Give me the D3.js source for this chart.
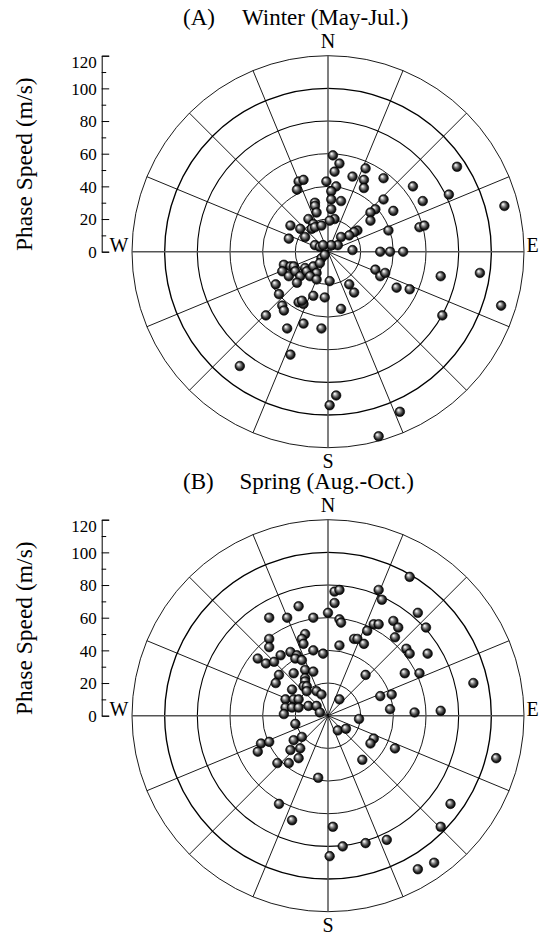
<!DOCTYPE html>
<html>
<head>
<meta charset="utf-8">
<script src="https://cdn.jsdelivr.net/npm/d3@7"></script>
<style>
body { margin: 0; background: #fff; }
svg text { font-family: "Liberation Serif", "Times New Roman", serif; fill: #000; }
</style>
</head>
<body>
<script>
//Phase velocity of each event as [eastward, northward] component, m/s
var winterPhase = [
    [3,59],[7,54],[4,49],[23,51],[15,46],[22,44],[22,39],[34,45],[-1,43],[5,40],
    [2,37],[2,32],[8,31],[2,26],[4,20],[1,19],[34,32],[29,26],[26,24],[26,19],
    [40,25],[52,40],[58,31],[74,35],[79,52],[108,28],[56,15],[59,16],[37,13],[18,13],
    [16,12],[13,10],[8,9],[6,4],[2,4],[15,1],[32,0],[38,0],[46,0],
    [-18,43],[-15,44],[-19,38],[-8,30],[-8,28],[-7,24],[-12,20],[-9,17],[-23,16],[-17,14],
    [-10,14],[-8,15],[-4,16],[-14,9],[-24,8],[-8,4],[-5,3],[-3,4],
    [-27,-8],[-23,-9],[-21,-9],[-28,-12],[-24,-15],[-20,-12],[-17,-15],[-19,-19],[-14,-10],[-13,-12],
    [-9,-9],[-7,-13],[-11,-15],[-7,-17],[-4,-4],[-2,-2],[-5,-7],[1,-18],[-32,-20],[-30,-26],
    [-28,-33],[-27,-36],[-18,-31],[-15,-32],[-16,-30],[-9,-27],[-2,-28],[-38,-39],[-25,-47],[-15,-44],
    [-4,-47],[-23,-63],[-54,-70],
    [8,-35],[13,-20],[16,-25],[1,-94],[5,-88],[31,-113],[44,-98],[29,-11],[32,-15],[35,-13],
    [42,-22],[50,-23],[69,-15],[93,-13],[106,-33],[70,-39]
];
var springPhase = [
    [50,85],[31,77],[33,71],[4,76],[7,77],[4,69],[0,63],[7,59],[8,57],[55,63],
    [60,54],[40,58],[43,54],[41,48],[28,56],[31,56],[24,52],[16,47],[18,47],[22,44],
    [7,43],[48,41],[50,38],[61,38],[47,26],[56,26],[89,20],[23,25],[32,12],[39,13],
    [38,4],[53,2],[69,3],[7,10],
    [19,-2],[6,-9],[11,-8],[28,-14],[26,-17],[41,-20],[21,-27],[103,-26],[75,-54],[69,-68],
    [36,-76],[23,-78],[9,-80],[3,-68],[1,-86],[55,-94],[65,-90],
    [-6,-38],[-30,-54],[-22,-64],[-20,-5],[-41,-17],[-36,-16],[-43,-22],[-21,-15],[-16,-13],[-23,-21],
    [-17,-20],[-18,-26],[-31,-29],[-24,-29],
    [-36,60],[-25,60],[-18,67],[-9,60],[-36,47],[-36,42],[-14,50],[-16,47],[-15,44],[-9,40],
    [-3,38],[-43,35],[-38,32],[-33,33],[-29,37],[-23,39],[-19,37],[-20,35],[-16,34],[-30,25],
    [-32,20],[-21,26],[-14,28],[-9,27],[-14,23],[-14,21],[-15,18],[-13,18],[-13,15],[-22,16],
    [-26,10],[-21,10],[-18,10],[-26,5],[-22,5],[-18,5],[-12,6],[-7,15],[-4,13],[-27,1],
    [-7,6],[-5,2]
];
var ringSpeeds = [20, 40, 60, 80, 100, 120];
var spokeAngles = [0, 22.5, 45, 67.5, 90, 112.5, 135, 157.5];
var majorTicks = [0, 20, 40, 60, 80, 100, 120];
var minorTicks = [10, 30, 50, 70, 90, 110];
var panelTags = ["(A)", "(B)"];
var panelTitles = ["Winter (May-Jul.)", "Spring (Aug.-Oct.)"];

//Chart parameters
var svgWidth = 544;
var svgHeight = 934;
var panelHeight = 464;
var maxSpeed = 120;
var plotRadius = 196;
var center = {x: 328, y: 251.7};
var axisX = 101.7;
var titleX = [242, 239.5];
var serif = "'Liberation Serif', 'Times New Roman', serif";

var svg = d3.select("body")
    .append("svg")
    .attr("width", svgWidth)
    .attr("height", svgHeight);

//Shaded ball marker
var grad = svg.append("defs")
    .append("radialGradient")
    .attr("id", "ball")
    .attr("cx", "50%").attr("cy", "50%").attr("r", "50%")
    .attr("fx", "33%").attr("fy", "30%");
[[0, "#ffffff"], [0.16, "#dedede"], [0.42, "#858585"], [0.75, "#262626"], [1, "#000000"]]
    .forEach(function(s) {
        grad.append("stop").attr("offset", s[0]).attr("stop-color", s[1]);
    });

function drawPanel(index, data) {
    var g = svg.append("g")
        .attr("transform", `translate(0, ${index * panelHeight})`);

    //Scales
    var xScale = d3.scaleLinear()
        .domain([-maxSpeed, maxSpeed])
        .range([center.x - plotRadius, center.x + plotRadius]);
    var yScale = d3.scaleLinear()
        .domain([-maxSpeed, maxSpeed])
        .range([center.y + plotRadius, center.y - plotRadius]);
    var rScale = d3.scaleLinear()
        .domain([0, maxSpeed])
        .range([0, plotRadius]);

    //Rings
    g.selectAll(".ring")
        .data(ringSpeeds)
        .enter()
        .append("circle")
        .attr("class", "ring")
        .attr("cx", xScale(0))
        .attr("cy", yScale(0))
        .attr("r", d => rScale(d))
        .attr("fill", "none")
        .attr("stroke", "#000")
        .attr("stroke-width", d => d == 100 ? 1.35 : (d == 80 ? 1.1 : 0.9));

    //Spokes every 22.5 degrees
    var rad = Math.PI / 180;
    g.selectAll(".spoke")
        .data(spokeAngles)
        .enter()
        .append("line")
        .attr("class", "spoke")
        .attr("x1", d => xScale(maxSpeed * Math.sin(d * rad)))
        .attr("y1", d => yScale(maxSpeed * Math.cos(d * rad)))
        .attr("x2", d => xScale(-maxSpeed * Math.sin(d * rad)))
        .attr("y2", d => yScale(-maxSpeed * Math.cos(d * rad)))
        .attr("stroke", d => d % 90 == 0 ? "#555" : "#000")
        .attr("stroke-width", d => d % 90 == 0 ? 1.5 : 0.9);

    //Speed axis on the left
    var axisScale = d3.scaleLinear()
        .domain([0, maxSpeed])
        .range([yScale(0), yScale(maxSpeed)]);
    var majorAxis = g.append("g")
        .attr("transform", `translate(${axisX}, 0)`)
        .call(d3.axisLeft(axisScale).tickValues(majorTicks).tickSize(-7.5).tickPadding(5));
    majorAxis.select(".domain").attr("stroke", "#000");
    majorAxis.selectAll("text")
        .style("font-family", serif)
        .style("font-size", "17px")
        .attr("dy", d => d == maxSpeed ? "0.7em" : "0.34em");
    g.append("g")
        .attr("transform", `translate(${axisX}, 0)`)
        .call(d3.axisLeft(axisScale).tickValues(minorTicks).tickSize(-4.5).tickFormat(""))
        .select(".domain").remove();

    //Points
    g.selectAll(".ball")
        .data(data)
        .enter()
        .append("circle")
        .attr("class", "ball")
        .attr("cx", d => xScale(d[0]))
        .attr("cy", d => yScale(d[1]))
        .attr("r", 4.8)
        .attr("fill", "url(#ball)")
        .attr("stroke", "#000")
        .attr("stroke-width", 0.6);

    //Compass letters
    g.append("text").attr("x", xScale(0)).attr("y", yScale(maxSpeed) - 7.5)
        .attr("text-anchor", "middle").style("font-size", "20px").text("N");
    g.append("text").attr("x", xScale(0)).attr("y", yScale(-maxSpeed) + 20)
        .attr("text-anchor", "middle").style("font-size", "20px").text("S");
    g.append("text").attr("x", xScale(-maxSpeed) - 3.5).attr("y", yScale(0))
        .attr("text-anchor", "end").style("font-size", "20px").text("W");
    g.append("text").attr("x", xScale(maxSpeed) + 2.5).attr("y", yScale(0))
        .attr("text-anchor", "start").style("font-size", "20px").text("E");

    //Titles
    g.append("text").attr("x", 183).attr("y", 25)
        .style("font-size", "23px").text(panelTags[index]);
    g.append("text").attr("x", titleX[index]).attr("y", 25)
        .style("font-size", "23px").text(panelTitles[index]);

    //Axis label
    g.append("text")
        .attr("transform", `translate(31.5, ${(yScale(0) + yScale(maxSpeed)) / 2 + 10.5}) rotate(-90)`)
        .attr("text-anchor", "middle")
        .style("font-family", serif)
        .style("font-size", "23.5px")
        .text("Phase Speed (m/s)");
}

drawPanel(0, winterPhase);
drawPanel(1, springPhase);
</script>
</body>
</html>
